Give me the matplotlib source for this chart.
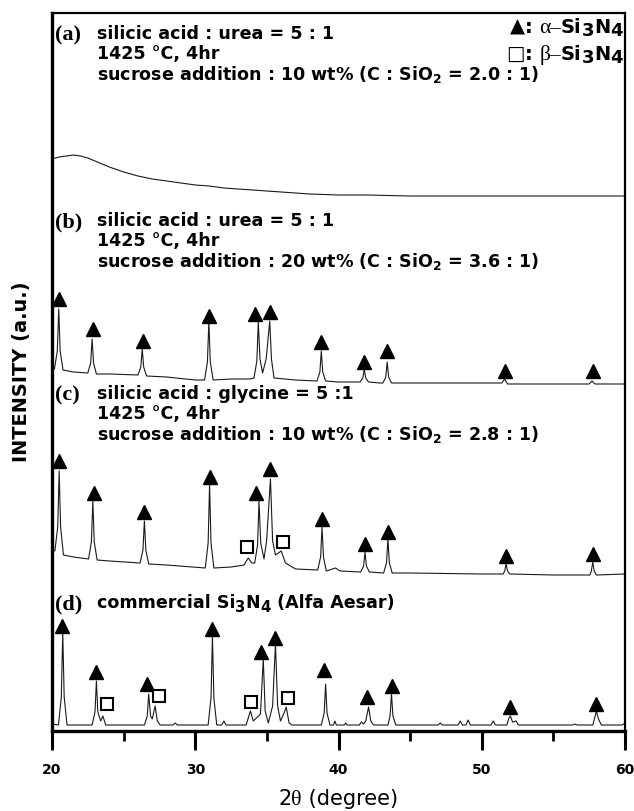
import matplotlib
matplotlib.use("Agg")
import matplotlib.pyplot as plt
from matplotlib.ticker import MultipleLocator

# ---------------- data ----------------
# x: 2-theta (degree); y: intensity (a.u., stacked offsets included)
a_x = [20.0, 20.5, 21.0, 21.5, 22.0, 22.5, 23.0, 23.5, 24.0, 25.0, 26.0, 27.0, 28.0,
       29.0, 30.0, 31.0, 32.0, 33.0, 34.0, 35.0, 36.0, 38.0, 40.0, 42.0, 45.0, 50.0,
       55.0, 60.0]
a_y = [572, 574, 575, 576, 575, 573, 570, 567, 564, 559, 555, 552, 550,
       548, 546, 545, 543, 542, 541, 540, 539, 537, 536, 536, 535, 535,
       535, 535]

b_x = [20.0, 20.17, 20.37, 20.47, 20.57, 20.77, 21.5, 22.5, 22.7, 22.8, 22.9, 23.1,
       24.0, 26.0, 26.2, 26.3, 26.4, 26.6, 28.0, 30.0, 30.65, 30.85, 30.95, 31.05,
       31.25, 32.5, 33.8, 34.1, 34.3, 34.4, 34.52, 34.7, 34.95, 35.2, 35.32, 35.5,
       37.0, 38.5, 38.7, 38.8, 38.9, 39.1, 40.0, 41.5, 41.7, 41.8, 41.9, 42.1, 42.9,
       43.1, 43.3, 43.4, 43.5, 43.7, 45.0, 50.0, 51.4, 51.6, 51.8, 55.0, 57.5, 57.7,
       57.9, 60.0]
b_y = [364, 362, 380, 422, 380, 361, 359, 358, 368, 392, 368, 357,
       357, 356, 364, 382, 364, 355, 354, 351, 351, 369, 410, 369,
       351, 352, 352, 353, 370, 409, 372, 358, 372, 410, 372, 353,
       351, 350, 359, 380, 359, 350, 349, 349, 353, 362, 353, 349, 348,
       348, 354, 369, 354, 348, 348, 348, 348, 352, 347, 347, 347, 350,
       347, 347]

c_x = [20.0, 20.2, 20.4, 20.5, 20.6, 20.8, 21.5, 22.55, 22.75, 22.85, 22.95, 23.15,
       24.0, 26.15, 26.35, 26.45, 26.55, 26.75, 28.0, 30.7, 30.9, 31.0, 31.1, 31.3,
       32.5, 33.4, 33.7, 33.95, 34.15, 34.35, 34.45, 34.57, 34.8, 34.98, 35.25, 35.4,
       35.6, 36.0, 36.3, 37.0, 38.55, 38.75, 38.85, 38.95, 39.15, 39.8, 40.1, 41.55,
       41.75, 41.85, 41.95, 42.15, 43.15, 43.35, 43.45, 43.55, 43.75, 45.0, 50.0,
       51.5, 51.6, 51.7, 51.8, 51.95, 55.0, 57.55, 57.65, 57.75, 57.85, 58.0, 60.0]
c_y = [182, 180, 204, 260, 204, 176, 174, 172, 189, 230, 189, 171,
       170, 168, 181, 210, 181, 167, 166, 163, 188, 247, 188, 163,
       164, 166, 173, 168, 168, 186, 230, 188, 172, 190, 252, 190,
       176, 180, 168, 162, 161, 174, 204, 174, 160, 163, 160, 159,
       165, 179, 165, 159, 158, 168, 192, 168, 158, 158, 157,
       157, 160, 167, 160, 157, 156, 156, 160, 169, 160, 156, 157]

d_x = [20.0, 20.45, 20.65, 20.75, 20.85, 21.05, 22.8, 23.0, 23.1, 23.2, 23.4, 23.55,
       23.75, 26.45, 26.65, 26.75, 26.88, 27.0, 27.2, 27.35, 27.55, 28.45, 28.6, 28.75,
       30.9, 31.1, 31.2, 31.3, 31.5, 31.85, 32.0, 32.15, 33.55, 33.85, 34.05, 34.55,
       34.75, 34.88, 35.1, 35.4, 35.6, 35.75, 35.95, 36.2, 36.35, 36.55, 36.75, 38.8,
       39.0, 39.1, 39.2, 39.4, 39.65, 39.75, 39.85, 40.4, 40.5, 40.6, 41.45, 41.6,
       41.75, 41.9, 42.1, 42.25, 42.45, 43.45, 43.6, 43.7, 43.8, 44.0, 46.95, 47.1,
       47.25, 48.35, 48.5, 48.65, 48.9, 49.05, 49.2, 50.65, 50.8, 50.95, 51.75, 51.9,
       52.0, 52.15, 52.4, 52.55, 56.35, 56.5, 56.65, 57.75, 57.9, 58.0, 58.15, 58.35,
       59.8, 60.0]
d_y = [7, 6, 34, 99, 34, 6, 6, 19, 50, 19, 10, 15,
       6, 6, 15, 37, 15, 12, 25, 10, 6, 6, 8, 6,
       6, 33, 95, 33, 6, 6, 10, 6, 6, 20, 10, 17,
       72, 20, 8, 25, 87, 25, 10, 18, 24, 8, 6, 6,
       18, 47, 18, 6, 6, 10, 6, 6, 8, 6, 6, 9,
       7, 10, 24, 10, 6, 6, 15, 37, 15, 6, 6, 8,
       6, 6, 10, 6, 6, 11, 6, 6, 10, 6, 6, 13,
       15, 9, 10, 6, 6, 7, 6, 6, 14, 20, 12, 6,
       6, 8]

# alpha-Si3N4 (filled triangles) and beta-Si3N4 (open squares) markers
tri_b_x = [20.5, 22.85, 26.35, 30.95, 34.2, 35.2, 38.8, 41.8, 43.4, 51.65, 57.75]
tri_b_y = [432, 402, 390, 415, 417, 419, 389, 369, 380, 360, 360]
tri_c_x = [20.5, 22.9, 26.45, 31.0, 34.25, 35.25, 38.85, 41.85, 43.45, 51.7, 57.75]
tri_c_y = [270, 238, 219, 254, 238, 262, 212, 187, 199, 175, 177]
sq_c_x = [33.6, 36.1]
sq_c_y = [184, 189]
tri_d_x = [20.7, 23.1, 26.65, 31.2, 34.6, 35.6, 39.0, 42.0, 43.7, 52.0, 58.0]
tri_d_y = [105, 59, 47, 102, 79, 93, 61, 34, 45, 24, 27]
sq_d_x = [23.85, 27.5, 33.9, 36.45]
sq_d_y = [27, 35, 29, 33]

x_ticks = [20, 30, 40, 50, 60]
x_tick_labels = ["20", "30", "40", "50", "60"]

# ---------------- figure ----------------
W, H, DPI = 634, 812, 100
plt.rcParams["mathtext.fontset"] = "custom"
plt.rcParams["mathtext.rm"] = "DejaVu Sans:bold"
plt.rcParams["mathtext.it"] = "DejaVu Sans:bold"
plt.rcParams["mathtext.bf"] = "DejaVu Sans:bold"
plt.rcParams["mathtext.default"] = "rm"

fig = plt.figure(figsize=(W / DPI, H / DPI), dpi=DPI)
ax = fig.add_axes([52 / W, 1 - 732 / H, (625 - 52) / W, (732 - 14) / H])
ax.set_xlim(20, 60)
ax.set_ylim(0, 718)

line_kw = dict(color="#1a1a1a", lw=0.8)
for xs, ys in [(a_x, a_y), (b_x, b_y), (c_x, c_y), (d_x, d_y)]:
    ax.plot(xs, ys, **line_kw)

tri_kw = dict(ls="none", marker="^", ms=9.5, color="black")
sq_kw = dict(ls="none", marker="s", ms=9, mfc="white", mec="black", mew=1.5)
ax.plot(tri_b_x, tri_b_y, **tri_kw)
ax.plot(tri_c_x, tri_c_y, **tri_kw)
ax.plot(tri_d_x, tri_d_y, **tri_kw)
ax.plot(sq_c_x, sq_c_y, **sq_kw)
ax.plot(sq_d_x, sq_d_y, **sq_kw)

for side, lw in [("left", 2.4), ("bottom", 2.4), ("top", 1.6), ("right", 1.6)]:
    ax.spines[side].set_linewidth(lw)
ax.set_yticks([])
ax.set_xticks(x_ticks)
ax.set_xticklabels(x_tick_labels)
ax.xaxis.set_minor_locator(MultipleLocator(5))
ax.tick_params(axis="x", which="major", direction="out", length=14, width=2.2, pad=8)
ax.tick_params(axis="x", which="minor", direction="out", length=7, width=2.0)
for lbl in ax.get_xticklabels():
    lbl.set_fontfamily("DejaVu Sans")
    lbl.set_fontweight("bold")
    lbl.set_fontsize(10)

renderer = fig.canvas.get_renderer()


def fit_size(s, target_w, **kw):
    t = fig.text(0, 0, s, fontsize=10, **kw)
    w = t.get_window_extent(renderer).width
    t.remove()
    return 10.0 * target_w / w


def rich(pieces, x, y_base, ha="left"):
    objs, cur = [], x
    for s, kw, dy in pieces:
        t = fig.text(cur / W, 1 - (y_base + dy) / H, s, ha="left", va="baseline", **kw)
        cur += t.get_window_extent(renderer).width
        objs.append(t)
    total = cur - x
    shift = {"left": 0.0, "center": total / 2.0, "right": total}[ha]
    for t in objs:
        px, py = t.get_position()
        t.set_position((px - shift / W, py))
    return objs


sans = dict(family="DejaVu Sans", fontweight="bold", color="black")
serif = dict(family="Liberation Serif", fontweight="bold", color="black")
fs = fit_size("sucrose addition : 10 wt% (C : SiO$_2$ = 2.0 : 1)", 441, **sans)
lab_fs = 16

blocks = [
    ("(a)", 39, ["silicic acid : urea = 5 : 1", "1425 \u00b0C, 4hr",
                 "sucrose addition : 10 wt% (C : SiO$_2$ = 2.0 : 1)"]),
    ("(b)", 226, ["silicic acid : urea = 5 : 1", "1425 \u00b0C, 4hr",
                  "sucrose addition : 20 wt% (C : SiO$_2$ = 3.6 : 1)"]),
    ("(c)", 399, ["silicic acid : glycine = 5 :1", "1425 \u00b0C, 4hr",
                  "sucrose addition : 10 wt% (C : SiO$_2$ = 2.8 : 1)"]),
]
line_gaps = [0, 20, 41]
for tag, yb, lines in blocks:
    fig.text(55 / W, 1 - (yb + 1) / H, tag, ha="left", va="baseline", fontsize=lab_fs, **serif)
    for k, s in enumerate(lines):
        fig.text(97 / W, 1 - (yb + line_gaps[k]) / H, s, ha="left", va="baseline",
                 fontsize=fs, **sans)

# (d)
fig.text(55 / W, 1 - 609 / H, "(d)", ha="left", va="baseline", fontsize=lab_fs, **serif)
rich([("commercial Si", dict(fontsize=fs, **sans), 0),
      ("3", dict(fontsize=fs * 0.85, **sans), 4),
      ("N", dict(fontsize=fs, **sans), 0),
      ("4", dict(fontsize=fs * 0.85, **sans), 4),
      (" (Alfa Aesar)", dict(fontsize=fs, **sans), 0)], 97, 608)

# legend
lg = fs * 1.12
greek = dict(family="Liberation Serif", color="black")
sym = dict(family="DejaVu Sans", color="black")
rich([("\u25b2", dict(fontsize=lg * 1.0, **sym), 0),
      (": ", dict(fontsize=lg, **sans), 0),
      ("\u03b1\u2013", dict(fontsize=lg * 1.1, **greek), 0),
      ("Si", dict(fontsize=lg, **sans), 0),
      ("3", dict(fontsize=lg * 0.92, **sans), 3),
      ("N", dict(fontsize=lg, **sans), 0),
      ("4", dict(fontsize=lg * 0.92, **sans), 3)], 623, 33, ha="right")
rich([("\u25a1", dict(fontsize=lg * 1.0, **sym), 0),
      (": ", dict(fontsize=lg, **sans), 0),
      ("\u03b2\u2013", dict(fontsize=lg * 1.1, **greek), 0),
      ("Si", dict(fontsize=lg, **sans), 0),
      ("3", dict(fontsize=lg * 0.92, **sans), 3),
      ("N", dict(fontsize=lg, **sans), 0),
      ("4", dict(fontsize=lg * 0.92, **sans), 3)], 623, 60, ha="right")

# axis labels
yl_fs = fit_size("INTENSITY (a.u.)", 181, **sans)
fig.text(22 / W, 1 - 372 / H, "INTENSITY (a.u.)", rotation=90, ha="center", va="center",
         fontsize=yl_fs, **sans)
xl = dict(family="DejaVu Sans", color="black", fontsize=15)
rich([("2", xl, 0), ("\u03b8", dict(family="Liberation Serif", color="black", fontsize=16), 0),
      (" (degree)", xl, 0)], 338, 805, ha="center")

fig.savefig("out.png", dpi=DPI)
